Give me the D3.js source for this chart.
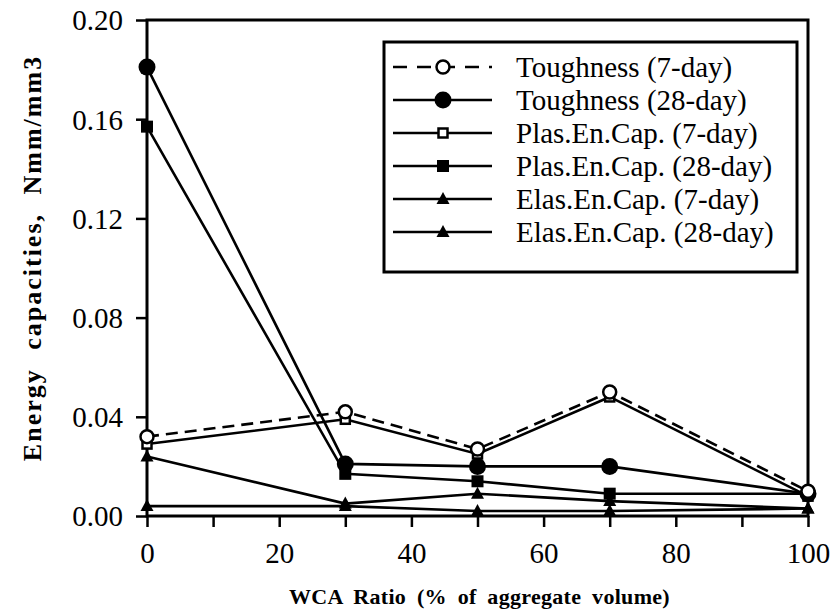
<!DOCTYPE html>
<html><head><meta charset="utf-8">
<script src="https://cdn.jsdelivr.net/npm/d3@7/dist/d3.min.js"></script>
<style>body{margin:0;background:#fff}</style>
</head><body>
<svg id="c" width="832" height="616"></svg>
<script>
const xValues = [0, 30, 50, 70, 100];
const toughness7 = [0.032, 0.042, 0.027, 0.050, 0.010];
const toughness28 = [0.181, 0.021, 0.020, 0.020, 0.009];
const plas7 = [0.029, 0.039, 0.025, 0.048, 0.008];
const plas28 = [0.157, 0.017, 0.014, 0.009, 0.009];
const elas7 = [0.004, 0.004, 0.002, 0.002, 0.003];
const elas28 = [0.024, 0.005, 0.009, 0.006, 0.003];
const seriesNames = ["Toughness (7-day)", "Toughness (28-day)", "Plas.En.Cap. (7-day)", "Plas.En.Cap. (28-day)", "Elas.En.Cap. (7-day)", "Elas.En.Cap. (28-day)"];
const xTicks = [0, 20, 40, 60, 80, 100];
const xMinorTicks = [10, 30, 50, 70, 90];
const yTicks = [0.00, 0.04, 0.08, 0.12, 0.16, 0.20];
const xTitle = "WCA Ratio (% of aggregate volume)";
const yTitle = "Energy capacities, Nmm/mm3";

const series = [
  {name: seriesNames[0], vals: toughness7, marker: "circleOpen", dash: "12,7"},
  {name: seriesNames[1], vals: toughness28, marker: "circle", dash: null},
  {name: seriesNames[2], vals: plas7, marker: "squareOpen", dash: null},
  {name: seriesNames[3], vals: plas28, marker: "square", dash: null},
  {name: seriesNames[4], vals: elas7, marker: "triangle", dash: null},
  {name: seriesNames[5], vals: elas28, marker: "triangle", dash: null}
];

const svg = d3.select("#c");
const font = "Liberation Serif, Times New Roman, Times, serif";
const L = 147, R = 808, T = 20, B = 516;
const x = d3.scaleLinear().domain([0, 100]).range([L, R]);
const y = d3.scaleLinear().domain([0, 0.20]).range([B, T]);

// frame
svg.append("rect").attr("x", L).attr("y", T).attr("width", R - L).attr("height", B - T)
  .attr("fill", "none").attr("stroke", "#000").attr("stroke-width", 3);

// axes
const xAxis = svg.append("g").attr("transform", `translate(0,${B})`)
  .call(d3.axisBottom(x).tickValues(xTicks).tickSize(11).tickFormat(d3.format("d")));
const xMinor = svg.append("g").attr("transform", `translate(0,${B})`)
  .call(d3.axisBottom(x).tickValues(xMinorTicks).tickSize(11).tickFormat(""));
const yAxis = svg.append("g").attr("transform", `translate(${L},0)`)
  .call(d3.axisLeft(y).tickValues(yTicks).tickSize(11).tickFormat(d3.format(".2f")));
[xAxis, xMinor, yAxis].forEach(g => {
  g.attr("font-family", font).attr("font-size", 29);
  g.select(".domain").remove();
  g.selectAll(".tick line").attr("stroke", "#000").attr("stroke-width", 2.5);
  g.selectAll("text").attr("fill", "#000").style("font-family", font).style("font-size", "29px");
});
xAxis.selectAll("text").attr("dy", null).attr("y", 47);
yAxis.selectAll("text").attr("x", -24).attr("dy", "0.34em");

// titles
svg.append("text").attr("x", (L + R) / 2 + 2).attr("y", 604).attr("text-anchor", "middle")
  .style("font-family", font).style("font-size", "22px").style("font-weight", "bold")
  .style("letter-spacing", "0.3px").style("word-spacing", "5px").text(xTitle);
svg.append("text").attr("transform", `translate(41,${258}) rotate(-90)`)
  .attr("text-anchor", "middle")
  .style("font-family", font).style("font-size", "26px").style("font-weight", "bold")
  .style("letter-spacing", "2px").style("word-spacing", "10px").text(yTitle);

function drawMarker(g, type, cx, cy) {
  if (type === "circleOpen") {
    g.append("circle").attr("cx", cx).attr("cy", cy).attr("r", 6.5).attr("fill", "#fff").attr("stroke", "#000").attr("stroke-width", 2.5);
  } else if (type === "circle") {
    g.append("circle").attr("cx", cx).attr("cy", cy).attr("r", 8.5).attr("fill", "#000");
  } else if (type === "squareOpen") {
    g.append("rect").attr("x", cx - 4.5).attr("y", cy - 4.5).attr("width", 9).attr("height", 9).attr("fill", "#fff").attr("stroke", "#000").attr("stroke-width", 2.5);
  } else if (type === "square") {
    g.append("rect").attr("x", cx - 6).attr("y", cy - 6).attr("width", 12).attr("height", 12).attr("fill", "#000");
  } else if (type === "triangle") {
    g.append("path").attr("d", `M${cx},${cy - 7}L${cx + 6.5},${cy + 5}L${cx - 6.5},${cy + 5}Z`).attr("fill", "#000");
  }
}

const line = d3.line().x(d => x(d[0])).y(d => y(d[1]));
const plot = svg.append("g");
series.forEach(s => {
  const pts = xValues.map((xv, i) => [xv, s.vals[i]]);
  plot.append("path").datum(pts).attr("d", line).attr("fill", "none")
    .attr("stroke", "#000").attr("stroke-width", 2.6)
    .attr("stroke-dasharray", s.dash);
});
series.slice().reverse().forEach(s => {
  xValues.forEach((xv, i) => drawMarker(plot, s.marker, x(xv), y(s.vals[i])));
});

// legend
const lg = svg.append("g");
lg.append("rect").attr("x", 384).attr("y", 42).attr("width", 413).attr("height", 230)
  .attr("fill", "#fff").attr("stroke", "#000").attr("stroke-width", 3);
series.forEach((s, i) => {
  const yy = 67 + i * 33;
  lg.append("line").attr("x1", 393).attr("x2", 492).attr("y1", yy).attr("y2", yy)
    .attr("stroke", "#000").attr("stroke-width", 2.6).attr("stroke-dasharray", s.dash ? "14,10" : null);
  drawMarker(lg, s.marker, 443, yy);
  lg.append("text").attr("x", 516).attr("y", yy).attr("dy", "0.33em")
    .style("font-family", font).style("font-size", "29px").text(s.name);
});
</script>
</body></html>
